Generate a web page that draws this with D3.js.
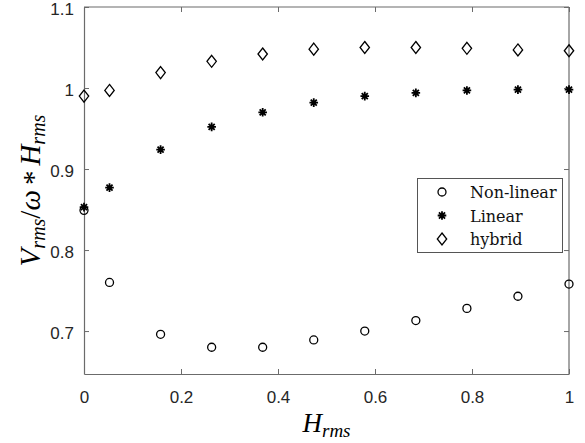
<!DOCTYPE html>
<html>
<head>
<meta charset="utf-8">
<script src="https://cdn.jsdelivr.net/npm/d3@7"></script>
<style>
  body { margin: 0; background: #fff; }
  .tick text { font-family: "Liberation Sans", Arial, sans-serif; font-size: 17px; fill: #262626; }
  .math { font-family: "Liberation Serif", serif; font-style: italic; fill: #000; }
</style>
</head>
<body>
<svg id="chart" width="585" height="443"></svg>
<script>
// Data
var hrms = [0, 0.0526, 0.1579, 0.2632, 0.3684, 0.4737, 0.5789, 0.6842, 0.7895, 0.8947, 1];
var nonLinear = [0.849, 0.760, 0.696, 0.680, 0.680, 0.689, 0.700, 0.713, 0.728, 0.743, 0.758];
var linear = [0.853, 0.877, 0.924, 0.952, 0.970, 0.982, 0.990, 0.994, 0.997, 0.998, 0.998];
var hybrid = [0.990, 0.997, 1.019, 1.033, 1.042, 1.048, 1.050, 1.050, 1.049, 1.047, 1.046];
var seriesNames = ["Non-linear", "Linear", "hybrid"];
var xTicks = [0, 0.2, 0.4, 0.6, 0.8, 1];
var yTicks = [0.7, 0.8, 0.9, 1, 1.1];

function init() {
  var svg = d3.select("#chart");
  var left = 84, right = 569, top = 7, bottom = 374;

  var x = d3.scaleLinear().domain([0, 1]).range([left, right]);
  var y = d3.scaleLinear().domain([0.647, 1.1]).range([bottom, top]);
  var fmt = d3.format("~g");
  var axisColor = "#6b6b6b";

  // axes (ticks pointing inward, box on)
  var gx = svg.append("g").attr("transform", "translate(0," + bottom + ")")
    .call(d3.axisBottom(x).tickValues(xTicks).tickFormat(fmt).tickSizeInner(-5).tickSizeOuter(0).tickPadding(17));
  var gy = svg.append("g").attr("transform", "translate(" + left + ",0)")
    .call(d3.axisLeft(y).tickValues(yTicks).tickFormat(fmt).tickSizeInner(-5).tickSizeOuter(0).tickPadding(10));
  var gt = svg.append("g").attr("transform", "translate(0," + top + ")")
    .call(d3.axisTop(x).tickValues(xTicks).tickFormat("").tickSizeInner(-5).tickSizeOuter(0));
  var gr = svg.append("g").attr("transform", "translate(" + right + ",0)")
    .call(d3.axisRight(y).tickValues(yTicks).tickFormat("").tickSizeInner(-5).tickSizeOuter(0));
  [gx, gy, gt, gr].forEach(function(g) {
    g.select(".domain").attr("stroke", axisColor).attr("stroke-width", 1.2);
    g.selectAll(".tick line").attr("stroke", axisColor);
  });
  gy.selectAll(".tick text").attr("dy", "0.45em");
  // axis frame lines must reach the corners
  gt.select(".domain").attr("d", "M" + left + ",0H" + right);
  gr.select(".domain").attr("d", "M0," + top + "V" + bottom);

  // marker shapes
  function starPath(r) {
    var a = r * 0.7071;
    return "M" + (-r) + ",0L" + r + ",0M0," + (-r) + "L0," + r +
           "M" + (-a) + "," + (-a) + "L" + a + "," + a + "M" + (-a) + "," + a + "L" + a + "," + (-a);
  }
  var diamondPath = "M0,-6L4.7,0L0,6L-4.7,0Z";

  function drawMarker(g, kind, px, py) {
    if (kind === 0) {
      g.append("circle").attr("cx", px).attr("cy", py).attr("r", 4)
        .attr("fill", "none").attr("stroke", "#000").attr("stroke-width", 1.3);
    } else if (kind === 1) {
      g.append("path").attr("d", starPath(4.3)).attr("transform", "translate(" + px + "," + py + ")")
        .attr("fill", "none").attr("stroke", "#000").attr("stroke-width", 1.8);
    } else {
      g.append("path").attr("d", diamondPath).attr("transform", "translate(" + px + "," + py + ")")
        .attr("fill", "none").attr("stroke", "#000").attr("stroke-width", 1.3);
    }
  }

  var allSeries = [nonLinear, linear, hybrid];
  var marks = svg.append("g");
  allSeries.forEach(function(vals, k) {
    vals.forEach(function(v, i) { drawMarker(marks, k, x(hrms[i]), y(v)); });
  });

  // legend
  var lg = svg.append("g");
  lg.append("rect").attr("x", 417.5).attr("y", 178.5).attr("width", 145).attr("height", 74)
    .attr("fill", "#fff").attr("stroke", "#555").attr("stroke-width", 1);
  seriesNames.forEach(function(name, k) {
    var ry = 192 + k * 23.5;
    drawMarker(lg, k, 442, ry);
    lg.append("text").attr("x", 470).attr("y", ry + 6)
      .style("font-family", "'DejaVu Serif', serif").style("font-size", "16px")
      .style("fill", "#111")
      .text(name);
  });

  // x title: H_rms
  var xt = svg.append("text").attr("class", "math")
    .attr("x", (left + right) / 2).attr("y", 432).attr("text-anchor", "middle")
    .style("font-size", "27px");
  xt.append("tspan").text("H");
  xt.append("tspan").attr("dy", 5).style("font-size", "19px").text("rms");

  // y title: V_rms / ω * H_rms
  var yt = svg.append("text").attr("class", "math")
    .attr("transform", "translate(40," + ((top + bottom) / 2) + ") rotate(-90)")
    .attr("text-anchor", "middle").style("font-size", "29px");
  yt.append("tspan").text("V");
  yt.append("tspan").attr("dy", 5).style("font-size", "20px").text("rms");
  yt.append("tspan").attr("dy", -5).style("font-style", "normal").text("/");
  yt.append("tspan").text("ω");
  yt.append("tspan").attr("dx", 5).attr("dy", 3).style("font-style", "normal").text("*");
  yt.append("tspan").attr("dx", 5).attr("dy", -3).text("H");
  yt.append("tspan").attr("dy", 5).style("font-size", "20px").text("rms");
}

init();
</script>
</body>
</html>
